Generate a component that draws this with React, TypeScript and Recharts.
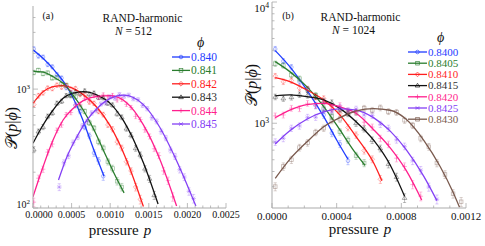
import React from 'react';
import { ComposedChart, Line, Scatter, XAxis, YAxis, ErrorBar } from 'recharts';

type Pt = [number, number];
type Dp = [number, number, number];

const FONT = '"Liberation Serif", "Times New Roman", serif';
const FRAME = '#ababab';

// ---------- axes / ticks ----------
const xMajorA = [0, 0.0005, 0.001, 0.0015, 0.002, 0.0025];
const xLabelsA = ['0.0000', '0.0005', '0.0010', '0.0015', '0.0020', '0.0025'];
const xMinorA = [0.0001, 0.0002, 0.0003, 0.0004, 0.0006, 0.0007, 0.0008, 0.0009, 0.0011, 0.0012, 0.0013, 0.0014, 0.0016, 0.0017, 0.0018, 0.0019, 0.0021, 0.0022, 0.0023, 0.0024];
const yMajorA = [100, 1000];
const yExpA = ['2', '3'];
const yMinorA = [200, 300, 400, 500, 600, 700, 800, 900, 2000, 3000, 4000];

const xMajorB = [0, 0.0004, 0.0008, 0.0012];
const xLabelsB = ['0.0000', '0.0004', '0.0008', '0.0012'];
const xMinorB = [0.0001, 0.0002, 0.0003, 0.0005, 0.0006, 0.0007, 0.0009, 0.001, 0.0011];
const yMajorB = [1000, 10000];
const yExpB = ['3', '4'];
const yMinorB = [300, 400, 500, 600, 700, 800, 900, 2000, 3000, 4000, 5000, 6000, 7000, 8000, 9000];

// ---------- panel (a): N = 512 ----------
const phiA = ['0.840', '0.841', '0.842', '0.843', '0.844', '0.845'];

const fitA840: Pt[] = [[0, 2140], [0.00013, 1815], [0.00031, 1358], [0.00044, 1047], [0.00057, 720], [0.00067, 500], [0.00078, 318], [0.00092, 185]];
const fitA841: Pt[] = [[0, 1410], [0.00013, 1390], [0.00026, 1271], [0.00039, 1119], [0.00052, 891], [0.00065, 667], [0.00078, 468], [0.00091, 308], [0.00104, 202], [0.00118, 134]];
const fitA842: Pt[] = [[0, 759], [0.00013, 951], [0.00026, 1047], [0.00039, 1069], [0.00052, 1016], [0.00066, 890], [0.00083, 700], [0.001, 490], [0.00121, 255], [0.00143, 103]];
const fitA843: Pt[] = [[0, 350], [0.00013, 499], [0.00026, 667], [0.00039, 837], [0.00052, 923], [0.00065, 951], [0.00083, 891], [0.001, 759], [0.00117, 545], [0.00143, 240], [0.00162, 108]];
const fitA844: Pt[] = [[0, 124], [0.00013, 222], [0.00026, 373], [0.00039, 550], [0.00052, 688], [0.00065, 800], [0.00083, 870], [0.001, 880], [0.00121, 770], [0.00143, 500], [0.00164, 260], [0.00186, 104]];
const fitA845: Pt[] = [[0.00033, 172], [0.00044, 270], [0.00057, 398], [0.0007, 550], [0.00083, 688], [0.001, 837], [0.00117, 891], [0.0013, 850], [0.00143, 740], [0.00164, 480], [0.00186, 250], [0.00211, 104]];

const ptsA840: Dp[] = [[0.00001, 2180, 90], [0.00007, 1900, 80], [0.00013, 1860, 75], [0.00019, 1610, 65], [0.00025, 1540, 60], [0.00031, 1320, 55], [0.00037, 1240, 50], [0.00043, 1030, 45], [0.00049, 930, 40], [0.00055, 730, 35], [0.00061, 650, 30], [0.00067, 480, 25], [0.00073, 405, 22], [0.00079, 290, 18], [0.00085, 250, 16], [0.00091, 185, 14]];
const ptsA841: Dp[] = [[0.00001, 1380, 60], [0.00007, 1440, 60], [0.00013, 1350, 55], [0.00019, 1370, 55], [0.00025, 1240, 50], [0.00031, 1250, 50], [0.00037, 1100, 45], [0.00043, 1080, 45], [0.00049, 900, 40], [0.00055, 860, 38], [0.00061, 700, 32], [0.00067, 650, 30], [0.00073, 520, 26], [0.00079, 470, 24], [0.00085, 360, 20], [0.00091, 320, 18], [0.00097, 245, 15], [0.00103, 215, 14], [0.00109, 168, 12], [0.00115, 150, 11]];
const ptsA842: Dp[] = [[0.00001, 740, 35], [0.00007, 880, 40], [0.00013, 930, 40], [0.00019, 1020, 42], [0.00025, 1010, 42], [0.00031, 1080, 45], [0.00037, 1040, 42], [0.00043, 1070, 44], [0.00049, 1000, 40], [0.00055, 1010, 40], [0.00061, 900, 38], [0.00067, 900, 38], [0.00073, 780, 34], [0.00079, 760, 33], [0.00085, 650, 30], [0.00091, 610, 28], [0.00097, 500, 25], [0.00103, 460, 24], [0.00109, 360, 20], [0.00115, 320, 18], [0.00121, 245, 15], [0.00127, 205, 13], [0.00133, 150, 11], [0.00139, 118, 10]];
const ptsA843: Dp[] = [[0.00001, 310, 18], [0.00007, 440, 22], [0.00013, 480, 24], [0.00019, 590, 27], [0.00025, 630, 28], [0.00031, 760, 32], [0.00037, 790, 33], [0.00043, 880, 36], [0.00049, 880, 36], [0.00055, 950, 38], [0.00061, 920, 37], [0.00067, 965, 38], [0.00073, 905, 36], [0.00079, 925, 37], [0.00085, 850, 35], [0.00091, 845, 35], [0.00097, 760, 32], [0.00103, 735, 31], [0.00109, 620, 28], [0.00115, 580, 27], [0.00121, 465, 23], [0.00127, 410, 21], [0.00133, 318, 18], [0.00139, 280, 16], [0.00145, 214, 13], [0.00151, 176, 12], [0.00157, 128, 10]];
const ptsA844: Dp[] = [[0.00001, 112, 9], [0.00007, 178, 11], [0.00013, 212, 13], [0.00019, 295, 16], [0.00025, 345, 18], [0.00031, 450, 21], [0.00037, 500, 23], [0.00043, 610, 26], [0.00049, 635, 27], [0.00055, 735, 30], [0.00061, 745, 30], [0.00067, 830, 33], [0.00073, 810, 32], [0.00079, 880, 34], [0.00085, 850, 33], [0.00091, 895, 35], [0.00097, 860, 34], [0.00103, 885, 35], [0.00109, 810, 32], [0.00115, 820, 32], [0.00121, 745, 30], [0.00127, 700, 29], [0.00133, 590, 26], [0.00139, 555, 25], [0.00145, 455, 22], [0.00151, 400, 20], [0.00157, 315, 17], [0.00163, 276, 16], [0.00169, 205, 13], [0.00175, 170, 12], [0.00181, 124, 10]];
const ptsA845: Dp[] = [[0.00034, 150, 10], [0.0004, 240, 14], [0.00046, 275, 15], [0.00052, 355, 18], [0.00058, 395, 19], [0.00064, 490, 22], [0.0007, 535, 24], [0.00076, 630, 27], [0.00082, 660, 28], [0.00088, 750, 30], [0.00094, 765, 31], [0.001, 860, 34], [0.00106, 840, 33], [0.00112, 900, 35], [0.00118, 870, 34], [0.00124, 890, 35], [0.0013, 830, 33], [0.00136, 815, 32], [0.00142, 730, 30], [0.00148, 685, 29], [0.00154, 575, 26], [0.0016, 535, 25], [0.00166, 440, 22], [0.00172, 388, 20], [0.00178, 308, 17], [0.00184, 272, 16], [0.0019, 210, 13], [0.00196, 182, 12], [0.00202, 138, 10], [0.00208, 120, 10]];

// ---------- panel (b): N = 1024 ----------
const phiB = ['0.8400', '0.8405', '0.8410', '0.8415', '0.8420', '0.8425', '0.8430'];

const fitB8400: Pt[] = [[0.00002, 3975], [0.00011, 2930], [0.000215, 1884], [0.00032, 1134], [0.0004, 728], [0.00047, 505]];
const fitB8405: Pt[] = [[0.00002, 3221], [0.00011, 2666], [0.000215, 2006], [0.00032, 1371], [0.00042, 881], [0.00051, 583], [0.000575, 450]];
const fitB8410: Pt[] = [[0.00002, 2376], [0.00011, 2203], [0.000215, 1884], [0.00032, 1556], [0.00042, 1171], [0.00052, 775], [0.00063, 468], [0.00068, 335]];
const fitB8415: Pt[] = [[0.00002, 1679], [0.00011, 1712], [0.000215, 1660], [0.00032, 1560], [0.00042, 1327], [0.00052, 1030], [0.00063, 721], [0.00073, 455], [0.00082, 250]];
const fitB8420: Pt[] = [[0.00002, 1110], [0.00011, 1282], [0.000215, 1423], [0.00032, 1460], [0.00042, 1367], [0.00052, 1210], [0.00063, 881], [0.00073, 629], [0.00083, 408], [0.000926, 233]];
const fitB8425: Pt[] = [[0.00002, 674], [0.00011, 867], [0.000215, 1079], [0.00032, 1240], [0.00042, 1314], [0.00052, 1284], [0.00063, 1108], [0.00073, 865], [0.00083, 607], [0.00094, 363], [0.00102, 230]];
const fitB8430: Pt[] = [[0.00002, 351], [0.00011, 504], [0.000215, 700], [0.00032, 937], [0.00042, 1113], [0.00052, 1262], [0.00063, 1318], [0.00073, 1280], [0.00083, 1080], [0.00094, 720], [0.00104, 440], [0.00112, 270], [0.00116, 203]];

const ptsB8400: Dp[] = [[0.00002, 4100, 200], [0.00007, 3250, 170], [0.00012, 2900, 150], [0.00017, 2200, 120], [0.00022, 1900, 105], [0.00027, 1400, 85], [0.00032, 1170, 72], [0.00037, 830, 55], [0.00042, 675, 45], [0.00047, 490, 35]];
const ptsB8405: Dp[] = [[0.00002, 3100, 160], [0.00007, 3000, 155], [0.00012, 2500, 130], [0.00017, 2330, 120], [0.00022, 1900, 100], [0.00027, 1700, 92], [0.00032, 1320, 75], [0.00037, 1140, 66], [0.00042, 850, 52], [0.00047, 725, 45], [0.00052, 540, 36], [0.00057, 470, 32]];
const ptsB8410: Dp[] = [[0.00002, 2450, 125], [0.00007, 2200, 115], [0.00012, 2250, 115], [0.00017, 1950, 100], [0.00022, 1920, 100], [0.00027, 1650, 88], [0.00032, 1600, 85], [0.00037, 1310, 72], [0.00042, 1210, 67], [0.00047, 920, 54], [0.00052, 800, 48], [0.00057, 595, 38], [0.00062, 505, 33], [0.00067, 345, 26]];
const ptsB8415: Dp[] = [[0.00002, 1650, 88], [0.00007, 1600, 85], [0.00012, 1640, 87], [0.00017, 1720, 90], [0.00022, 1700, 90], [0.00027, 1660, 88], [0.00032, 1520, 82], [0.00037, 1480, 80], [0.00042, 1290, 71], [0.00047, 1200, 67], [0.00052, 1000, 58], [0.00057, 900, 53], [0.00062, 725, 45], [0.00067, 620, 40], [0.00072, 460, 32], [0.00077, 360, 27], [0.00082, 242, 20]];
const ptsB8420: Dp[] = [[0.00002, 1150, 65], [0.00007, 1170, 66], [0.00012, 1330, 73], [0.00017, 1320, 73], [0.00022, 1460, 79], [0.00027, 1400, 77], [0.00032, 1500, 81], [0.00037, 1380, 76], [0.00042, 1400, 77], [0.00047, 1260, 70], [0.00052, 1240, 69], [0.00057, 1020, 59], [0.00062, 930, 55], [0.00067, 750, 46], [0.00072, 670, 42], [0.00077, 515, 35], [0.00082, 440, 31], [0.00087, 312, 24], [0.00092, 250, 21]];
const ptsB8425: Dp[] = [[0.00002, 700, 44], [0.00007, 750, 46], [0.00012, 910, 54], [0.00017, 950, 56], [0.00022, 1120, 64], [0.00027, 1120, 64], [0.00032, 1280, 71], [0.00037, 1240, 69], [0.00042, 1350, 74], [0.00047, 1270, 71], [0.00052, 1310, 72], [0.00057, 1170, 66], [0.00062, 1160, 66], [0.00067, 980, 57], [0.00072, 910, 54], [0.00077, 730, 45], [0.00082, 645, 41], [0.00087, 490, 34], [0.00092, 410, 30], [0.00097, 298, 23], [0.00102, 236, 20]];
const ptsB8430: Dp[] = [[0.00002, 300, 23], [0.00007, 440, 31], [0.00012, 500, 34], [0.00017, 630, 40], [0.00022, 690, 43], [0.00027, 840, 51], [0.00032, 910, 54], [0.00037, 1050, 60], [0.00042, 1080, 62], [0.00047, 1220, 68], [0.00052, 1230, 69], [0.00057, 1330, 73], [0.00062, 1280, 71], [0.00067, 1340, 74], [0.00072, 1250, 70], [0.00077, 1230, 69], [0.00082, 1060, 61], [0.00087, 960, 56], [0.00092, 750, 46], [0.00097, 640, 41], [0.00102, 470, 33], [0.00107, 378, 28], [0.00112, 262, 21], [0.00117, 225, 19]];

// ---------- styling tables ----------
const BLUE = '#1f3cff', GREEN = '#2a7d2e', RED = '#ff1f1f', BLACK = '#111111', PINK = '#ff1f8e', PURPLE = '#8440f5', BROWN = '#7a5a4e';

type Series = { name: string; color: string; text: string; mark: string; fit: Pt[]; pts: Dp[] };

const seriesA: Series[] = [
  { name: phiA[0], color: BLUE, text: BLUE, mark: 'circle', fit: fitA840, pts: ptsA840 },
  { name: phiA[1], color: GREEN, text: GREEN, mark: 'square', fit: fitA841, pts: ptsA841 },
  { name: phiA[2], color: RED, text: RED, mark: 'diamond', fit: fitA842, pts: ptsA842 },
  { name: phiA[3], color: BLACK, text: '#333333', mark: 'triangle', fit: fitA843, pts: ptsA843 },
  { name: phiA[4], color: PINK, text: PINK, mark: 'plus', fit: fitA844, pts: ptsA844 },
  { name: phiA[5], color: PURPLE, text: PURPLE, mark: 'cross', fit: fitA845, pts: ptsA845 },
];

const seriesB: Series[] = [
  { name: phiB[0], color: BLUE, text: BLUE, mark: 'circle', fit: fitB8400, pts: ptsB8400 },
  { name: phiB[1], color: GREEN, text: GREEN, mark: 'square', fit: fitB8405, pts: ptsB8405 },
  { name: phiB[2], color: RED, text: RED, mark: 'diamond', fit: fitB8410, pts: ptsB8410 },
  { name: phiB[3], color: BLACK, text: '#333333', mark: 'triangle', fit: fitB8415, pts: ptsB8415 },
  { name: phiB[4], color: PINK, text: PINK, mark: 'plus', fit: fitB8420, pts: ptsB8420 },
  { name: phiB[5], color: PURPLE, text: PURPLE, mark: 'cross', fit: fitB8425, pts: ptsB8425 },
  { name: phiB[6], color: BROWN, text: BROWN, mark: 'square', fit: fitB8430, pts: ptsB8430 },
];

function Marker({ cx, cy, kind, color, r = 1.8, op = 0.5 }: any) {
  if (cx == null || cy == null || isNaN(cx) || isNaN(cy)) return <g />;
  const c = { fill: 'none', stroke: color, strokeWidth: 0.7, strokeOpacity: op };
  const k = r * 1.3;
  switch (kind) {
    case 'square':
      return <rect x={cx - r} y={cy - r} width={2 * r} height={2 * r} {...c} />;
    case 'diamond':
      return <path d={`M${cx},${cy - k}L${cx + k},${cy}L${cx},${cy + k}L${cx - k},${cy}Z`} {...c} />;
    case 'triangle':
      return <path d={`M${cx},${cy - k}L${cx + k},${cy + r * 0.8}L${cx - k},${cy + r * 0.8}Z`} {...c} />;
    case 'plus':
      return <path d={`M${cx - k},${cy}H${cx + k}M${cx},${cy - k}V${cy + k}`} {...c} />;
    case 'cross':
      return <path d={`M${cx - r},${cy - r}L${cx + r},${cy + r}M${cx - r},${cy + r}L${cx + r},${cy - r}M${cx - k},${cy}H${cx + k}`} {...c} />;
    default:
      return <circle cx={cx} cy={cy} r={r} {...c} />;
  }
}

const isMajor = (majors: number[], v: number) => majors.findIndex((m) => Math.abs(m - v) <= Math.abs(m) * 1e-6 + 1e-12);

function XTick(props: any) {
  const { x, y, payload, majors, labels, fs, dy, dir, firstDx = 0 } = props;
  const idx = isMajor(majors, payload.value);
  const len = idx >= 0 ? 5 : 2.5;
  return (
    <g>
      <line x1={x} x2={x} y1={y} y2={y + dir * len} stroke={FRAME} strokeWidth={0.8} />
      {labels && idx >= 0 && (
        <text x={x + (idx === 0 ? firstDx : 0)} y={y + dy} textAnchor="middle" fontSize={fs}
          fontFamily={FONT} style={{ fontFamily: FONT }} fill="#111">
          {labels[idx]}
        </text>
      )}
    </g>
  );
}

function YTick(props: any) {
  const { x, y, payload, majors, exps, fs, dir } = props;
  const idx = isMajor(majors, payload.value);
  const len = idx >= 0 ? 5 : 2.5;
  const base = Math.min(Math.max(y + fs * 0.35, fs * 1.1), 208);
  return (
    <g>
      <line x1={x} x2={x + dir * len} y1={y} y2={y} stroke={FRAME} strokeWidth={0.8} />
      {exps && idx >= 0 && (
        <text x={x - 3} y={base} textAnchor="end" fontSize={fs} fontFamily={FONT} style={{ fontFamily: FONT }} fill="#111">
          10<tspan dy={-fs * 0.4} fontSize={fs * 0.7}>{exps[idx]}</tspan>
        </text>
      )}
    </g>
  );
}

function Panel(cfg: any) {
  const { left, width, margin, yWidth, xDomain, yDomain, xMajor, xMinor, xLabels, xFs, xDy, firstDx, yMajor, yMinor, yExp, yFs, series } = cfg;
  const xTicks = [...xMajor, ...xMinor].sort((a: number, b: number) => a - b);
  const yTicks = [...yMajor, ...yMinor].sort((a: number, b: number) => a - b);
  return (
    <div style={{ position: 'absolute', left, top: 0 }}>
      <ComposedChart width={width} height={246} margin={margin}>
        <XAxis type="number" dataKey="p" domain={xDomain} allowDataOverflow ticks={xTicks} interval={0}
          tickSize={0} tickMargin={0} tickLine={false} axisLine={{ stroke: FRAME }} height={30}
          tick={(p: any) => <XTick {...p} majors={xMajor} labels={xLabels} fs={xFs} dy={xDy} dir={-1} firstDx={firstDx} />} />
        <XAxis xAxisId="t" orientation="top" type="number" domain={xDomain} allowDataOverflow ticks={xTicks} interval={0}
          tickSize={0} tickMargin={0} tickLine={false} axisLine={{ stroke: FRAME }} height={0}
          tick={(p: any) => <XTick {...p} majors={xMajor} dir={1} />} />
        <YAxis type="number" dataKey="v" scale="log" domain={yDomain} allowDataOverflow ticks={yTicks} interval={0}
          tickSize={0} tickMargin={0} tickLine={false} axisLine={{ stroke: FRAME }} width={yWidth}
          tick={(p: any) => <YTick {...p} majors={yMajor} exps={yExp} fs={yFs} dir={1} />} />
        <YAxis yAxisId="r" orientation="right" type="number" scale="log" domain={yDomain} allowDataOverflow ticks={yTicks} interval={0}
          tickSize={0} tickMargin={0} tickLine={false} axisLine={{ stroke: FRAME }} width={0}
          tick={(p: any) => <YTick {...p} majors={yMajor} dir={-1} />} />
        {series.map((s: Series) => (
          <Scatter key={'s' + s.name} name={'pts' + s.name} data={s.pts.map(([p, v, e]) => ({ p, v, e }))}
            isAnimationActive={false} fill={s.color}
            shape={(sp: any) => <Marker cx={sp.cx} cy={sp.cy} kind={s.mark} color={s.color} />}>
            <ErrorBar dataKey="e" direction="y" width={1.6} stroke={s.color} strokeOpacity={0.45} strokeWidth={0.6} />
          </Scatter>
        ))}
        {series.map((s: Series) => (
          <Line key={'l' + s.name} name={s.name} data={s.fit.map(([p, v]) => ({ p, v }))} dataKey="v"
            type="monotone" dot={false} stroke={s.color} strokeWidth={1.3} isAnimationActive={false} />
        ))}
      </ComposedChart>
    </div>
  );
}

function LegendBlock({ series, x1, x2, tx, y0, dy, fs }: any) {
  return (
    <g>
      {series.map((s: Series, i: number) => {
        const y = y0 + i * dy;
        return (
          <g key={s.name}>
            <line x1={x1} x2={x2} y1={y} y2={y} stroke={s.color} strokeWidth={1.3} />
            <Marker cx={(x1 + x2) / 2} cy={y} kind={s.mark} color={s.color} op={0.9} />
            <text x={tx} y={y + fs * 0.35} fontSize={fs} fontFamily={FONT} style={{ fontFamily: FONT }} fill={s.text}>{s.name}</text>
          </g>
        );
      })}
    </g>
  );
}

export default function App() {
  return (
    <div style={{ position: 'absolute', left: 0, top: 0, width: 485, height: 246, background: '#fff', overflow: 'hidden' }}>
      <Panel left={0} width={240} margin={{ top: 6, right: 14, bottom: 8, left: 0 }} yWidth={33}
        xDomain={[0, 0.0025]} yDomain={[100, 5000]} xMajor={xMajorA} xMinor={xMinorA} xLabels={xLabelsA}
        xFs={10} xDy={9.5} firstDx={6} yMajor={yMajorA} yMinor={yMinorA} yExp={yExpA} yFs={10} series={seriesA} />
      <Panel left={240} width={245} margin={{ top: 2, right: 19, bottom: 8, left: 0 }} yWidth={32}
        xDomain={[0, 0.0012]} yDomain={[200, 10000]} xMajor={xMajorB} xMinor={xMinorB} xLabels={xLabelsB}
        xFs={11} xDy={12} firstDx={0} yMajor={yMajorB} yMinor={yMinorB} yExp={yExpB} yFs={11} series={seriesB} />
      <svg width={485} height={246} style={{ position: 'absolute', left: 0, top: 0, pointerEvents: 'none' }}>
        <g fontFamily={FONT} style={{ fontFamily: FONT }} fill="#111">
          {/* panel (a) */}
          <text x={48} y={19} fontSize={10} textAnchor="middle">(a)</text>
          <text x={142.5} y={22} fontSize={11.5} textAnchor="middle">RAND-harmonic</text>
          <text x={133.5} y={34.5} fontSize={11.5} textAnchor="middle"><tspan fontStyle="italic">N</tspan> = 512</text>
          <text x={200.5} y={47} fontSize={14} fontStyle="italic" textAnchor="middle">ϕ</text>
          <text transform="translate(17,128) rotate(-90)" fontSize={16} textAnchor="middle">𝒫(<tspan fontStyle="italic">p</tspan>|<tspan fontStyle="italic">ϕ</tspan>)</text>
          <text x={120} y={235} fontSize={15} textAnchor="middle">pressure<tspan dx={5} fontStyle="italic">p</tspan></text>
          {/* panel (b) */}
          <text x={288} y={19} fontSize={10} textAnchor="middle">(b)</text>
          <text x={360.5} y={21} fontSize={11.5} textAnchor="middle">RAND-harmonic</text>
          <text x={353.5} y={33.5} fontSize={11.5} textAnchor="middle"><tspan fontStyle="italic">N</tspan> = 1024</text>
          <text x={440.5} y={42} fontSize={14} fontStyle="italic" textAnchor="middle">ϕ</text>
          <text transform="translate(257,85) rotate(-90)" fontSize={16} textAnchor="middle">𝒫(<tspan fontStyle="italic">p</tspan>|<tspan fontStyle="italic">ϕ</tspan>)</text>
          <text x={360} y={234} fontSize={15} textAnchor="middle">pressure<tspan dx={5} fontStyle="italic">p</tspan></text>
        </g>
        <LegendBlock series={seriesA} x1={172} x2={190} tx={191} y0={57} dy={13.4} fs={11.5} />
        <LegendBlock series={seriesB} x1={408} x2={427} tx={428} y0={52} dy={11.2} fs={11} />
      </svg>
    </div>
  );
}
